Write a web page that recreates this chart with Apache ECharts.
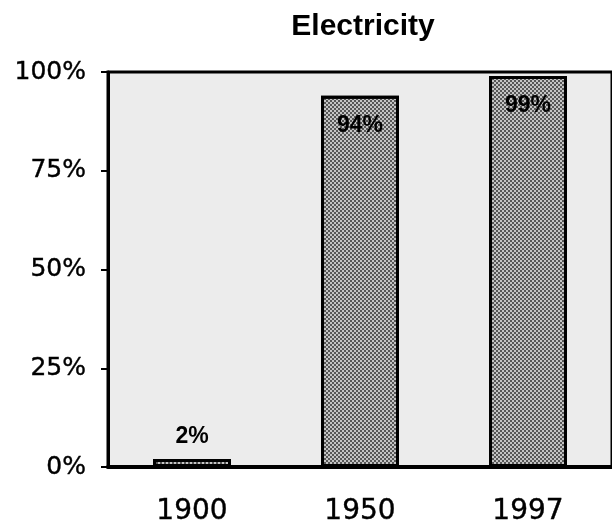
<!DOCTYPE html>
<html>
<head>
<meta charset="utf-8">
<script src="https://cdn.jsdelivr.net/npm/echarts@6/dist/echarts.min.js"></script>
<style>
  html, body { margin: 0; padding: 0; background: #fff; }
  #main { width: 612px; height: 528px; }
</style>
</head>
<body>
<div id="main"></div>
<script>
var years = ['1900', '1950', '1997'];
var shares = [2, 94, 99];
var yTicks = [0, 25, 50, 75, 100];

var chartDom = document.getElementById('main');
var myChart = echarts.init(chartDom);
var option;

var barData = shares.map(function (v) {
  return {
    value: v,
    label: v < 10
      ? { position: 'top', distance: 11 }
      : { position: 'insideTop', distance: 18 }
  };
});

option = {
  animation: false,
  title: {
    text: 'Electricity',
    left: 358,
    top: 7,
    textAlign: 'center',
    textStyle: {
      fontFamily: 'Liberation Sans',
      fontWeight: 'bold',
      fontSize: 30,
      color: '#000'
    }
  },
  grid: {
    left: 108,
    right: -3,
    top: 72,
    bottom: 61,
    show: true,
    backgroundColor: '#ececec',
    borderColor: '#000',
    borderWidth: 3
  },
  xAxis: {
    type: 'category',
    data: years,
    axisTick: { show: false },
    axisLine: { lineStyle: { color: '#000', width: 4 } },
    axisLabel: {
      margin: 31,
      color: '#000',
      fontFamily: 'DejaVu Sans',
      fontSize: 28,
      textBorderColor: '#000',
      textBorderWidth: 0.4
    }
  },
  yAxis: {
    type: 'value',
    min: yTicks[0],
    max: yTicks[yTicks.length - 1],
    interval: 25,
    splitLine: { show: false },
    axisLine: { show: true, lineStyle: { color: '#000', width: 3 } },
    axisTick: { show: true, length: 7, lineStyle: { color: '#000', width: 2 } },
    axisLabel: {
      margin: 22,
      color: '#000',
      fontFamily: 'DejaVu Sans',
      fontSize: 25,
      textBorderColor: '#000',
      textBorderWidth: 0.4,
      formatter: '{value}%'
    }
  },
  series: [
    {
      type: 'bar',
      data: barData,
      barWidth: 78,
      itemStyle: {
        color: '#c4c4c4',
        borderColor: '#000',
        borderWidth: 3,
        decal: {
          symbol: 'circle',
          symbolSize: 1,
          color: '#333',
          dashArrayX: [[2, 2], [0, 2, 2, 0]],
          dashArrayY: [2, 0]
        }
      },
      label: {
        show: true,
        formatter: '{c}%',
        color: '#000',
        fontFamily: 'Liberation Sans',
        fontWeight: 'bold',
        fontSize: 23
      }
    }
  ]
};

option && myChart.setOption(option);
</script>
</body>
</html>
